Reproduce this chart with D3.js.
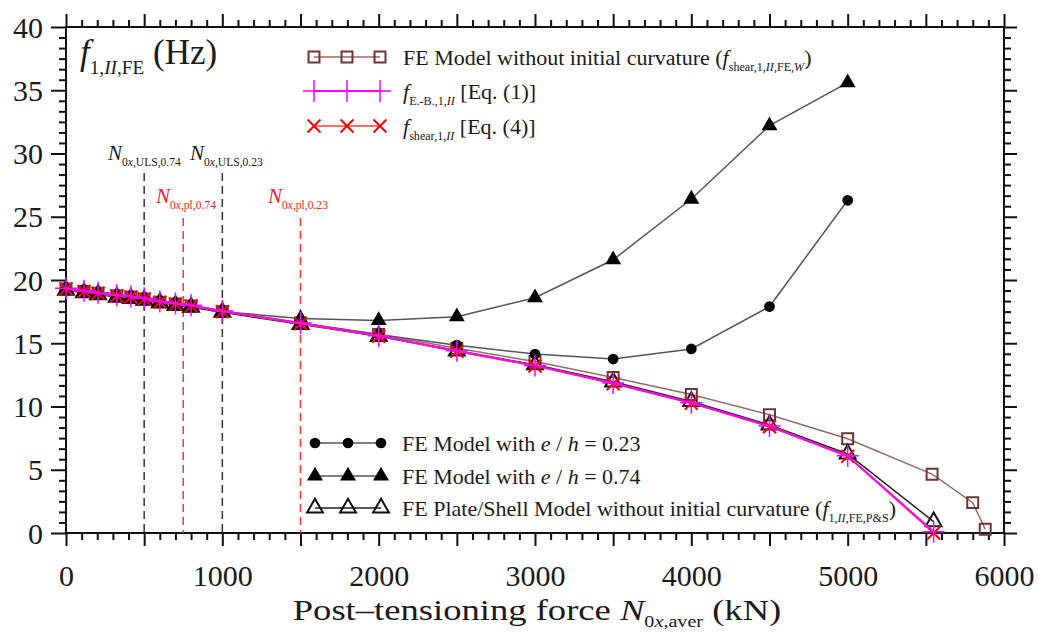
<!DOCTYPE html>
<html>
<head>
<meta charset="utf-8">
<script src="https://cdn.jsdelivr.net/npm/d3@7"></script>
<style>
  body { margin: 0; background: #fff; }
  svg { font-family: "Liberation Serif", "Times New Roman", serif; }
</style>
</head>
<body>
<div id="chart"></div>
<script>
// x positions (kN) of the FE load steps
var xSteps = [0, 115, 205, 325, 415, 500, 600, 700, 800, 1000, 1500, 2000, 2500, 3000, 3500, 4000, 4500, 5000, 5550];
var xSquares = [0, 115, 205, 325, 415, 500, 600, 700, 800, 1000, 1500, 2000, 2500, 3000, 3500, 4000, 4500, 5000, 5540, 5800, 5880];
var xEcc = [0, 115, 205, 325, 415, 500, 600, 700, 800, 1000, 1500, 2000, 2500, 3000, 3500, 4000, 4500, 5000];

// frequencies (Hz)
var fSquares = [19.3, 19.1, 18.95, 18.75, 18.65, 18.5, 18.25, 18.1, 17.95, 17.5, 16.6, 15.7, 14.6, 13.55, 12.3, 10.95, 9.35, 7.45, 4.65, 2.4, 0.3];
var fEB = [19.35, 19.15, 19.0, 18.8, 18.7, 18.55, 18.3, 18.15, 18.0, 17.55, 16.6, 15.6, 14.4, 13.25, 11.85, 10.3, 8.45, 6.1, 0.1];
var fShear = [19.3, 19.1, 18.95, 18.75, 18.65, 18.5, 18.25, 18.1, 17.95, 17.5, 16.55, 15.55, 14.35, 13.2, 11.8, 10.25, 8.4, 6.05, 0.0];
var fPlate = [19.2, 19.0, 18.85, 18.65, 18.55, 18.4, 18.2, 18.0, 17.85, 17.45, 16.5, 15.55, 14.4, 13.3, 11.95, 10.4, 8.55, 6.25, 0.9];
var fEcc023 = [19.25, 19.05, 18.9, 18.7, 18.6, 18.45, 18.2, 18.05, 17.9, 17.5, 16.6, 15.7, 14.85, 14.15, 13.75, 14.55, 17.9, 26.3];
var fEcc074 = [19.25, 19.05, 18.9, 18.7, 18.6, 18.45, 18.2, 18.05, 17.9, 17.5, 16.95, 16.8, 17.1, 18.6, 21.6, 26.4, 32.2, 35.6];

var xMajor = [0, 500, 1000, 1500, 2000, 2500, 3000, 3500, 4000, 4500, 5000, 5500, 6000];
var xLabels = [0, 1000, 2000, 3000, 4000, 5000, 6000];
var yMajor = [0, 5, 10, 15, 20, 25, 30, 35, 40];

// limit lines
var ulsLines = [500, 1000];
var plLines = [750, 1500];

var W = 1039, H = 632;
var svg = d3.select('#chart').append('svg').attr('width', W).attr('height', H);

var x = d3.scaleLinear().domain([0, 6000]).range([66, 1004]);
var y = d3.scaleLinear().domain([0, 40]).range([533, 27]);

// rich text helper: parts = [[text, kind]] kind: '' normal, 'i' italic, 's' sub, 'si' sub italic
function rich(g, px, py, parts, size, color, anchor, subShift) {
  var t = g.append('text').attr('x', px).attr('y', py)
    .style('font-size', size + 'px').attr('fill', color || '#1a1a1a')
    .attr('text-anchor', anchor || 'start');
  var shift = 0;
  parts.forEach(function(p) {
    var sub = p[1].indexOf('s') >= 0;
    var target = sub ? size * (subShift || 0.28) : 0;
    t.append('tspan')
      .attr('dy', target - shift)
      .style('font-size', (sub ? size * 0.55 : size) + 'px')
      .style('font-style', p[1].indexOf('i') >= 0 ? 'italic' : 'normal')
      .text(p[0]);
    shift = target;
  });
  return t;
}

// axes
function addAxis(axisFn, transform, values, size, labels) {
  var a = axisFn.tickValues(values).tickSize(size).tickSizeOuter(0)
    .tickFormat(labels ? function(d) { return labels.indexOf(d) >= 0 ? d : ''; } : function() { return ''; });
  var g = svg.append('g').attr('transform', transform).call(a);
  g.attr('font-family', null);
  g.select('.domain').remove();
  g.selectAll('.tick line').attr('stroke', '#111').attr('stroke-width', 2);
  g.selectAll('.tick text').style('font-size', '30px').attr('fill', '#1a1a1a');
  return g;
}
var xMinor = d3.range(0, 6001, 100).filter(function(d) { return d % 500 !== 0; });
var yMinor = d3.range(0, 40.01, 5 / 6).filter(function(d) { return Math.abs(d / 5 - Math.round(d / 5)) > 0.01; });

addAxis(d3.axisBottom(x), 'translate(0,533)', xMinor, 7);
var gx = addAxis(d3.axisBottom(x), 'translate(0,533)', xMajor, 13, xLabels);
gx.selectAll('.tick text').attr('y', 32).attr('dy', '0.71em');
addAxis(d3.axisTop(x), 'translate(0,27)', xMinor, 7);
addAxis(d3.axisTop(x), 'translate(0,27)', xMajor, 13);
addAxis(d3.axisLeft(y), 'translate(66,0)', yMinor, 7);
var gy = addAxis(d3.axisLeft(y), 'translate(66,0)', yMajor, 15, yMajor);
gy.selectAll('.tick text').attr('x', -23).attr('dy', '0.34em');
addAxis(d3.axisRight(y), 'translate(1004,0)', yMinor, 7);
addAxis(d3.axisRight(y), 'translate(1004,0)', yMajor, 13);

// frame
svg.append('rect').attr('x', 66).attr('y', 27).attr('width', 1004 - 66).attr('height', 533 - 27)
  .attr('fill', 'none').attr('stroke', '#111').attr('stroke-width', 2);

// limit lines
svg.selectAll('.uls').data(ulsLines).enter().append('line')
  .attr('x1', function(d) { return x(d); }).attr('x2', function(d) { return x(d); })
  .attr('y1', 173).attr('y2', 533)
  .attr('stroke', '#333').attr('stroke-width', 1.5).attr('stroke-dasharray', '8,5');
svg.selectAll('.pl').data(plLines).enter().append('line')
  .attr('x1', function(d) { return x(d); }).attr('x2', function(d) { return x(d); })
  .attr('y1', 218).attr('y2', 533)
  .attr('stroke', '#ff3333').attr('stroke-width', 1.5).attr('stroke-dasharray', '8,5');

rich(svg, 108, 160, [['N', 'i'], ['0', 's'], ['x', 'si'], [',ULS,0.74', 's']], 21, '#1a1a1a');
rich(svg, 190, 160, [['N', 'i'], ['0', 's'], ['x', 'si'], [',ULS,0.23', 's']], 21, '#1a1a1a');
rich(svg, 156, 203, [['N', 'i'], ['0', 's'], ['x', 'si'], [',pl,0.74', 's']], 21, '#ff2020');
rich(svg, 268, 203, [['N', 'i'], ['0', 's'], ['x', 'si'], [',pl,0.23', 's']], 21, '#ff2020');

// series
var series = [
  { xs: xSquares, ys: fSquares, line: '#9a6a6a', lw: 1.5, sym: d3.symbolSquare, size: 120, fill: 'none', stroke: '#6e3535', sw: 2 },
  { xs: xSteps, ys: fPlate, line: '#222', lw: 1.5, sym: d3.symbolTriangle, size: 110, fill: 'none', stroke: '#111', sw: 2 },
  { xs: xEcc, ys: fEcc023, line: '#555', lw: 1.5, sym: d3.symbolCircle, size: 90, fill: '#000', stroke: 'none', sw: 0 },
  { xs: xEcc, ys: fEcc074, line: '#555', lw: 1.5, sym: d3.symbolTriangle, size: 110, fill: '#000', stroke: 'none', sw: 0 },
  { xs: xSteps, ys: fShear, line: '#ff4040', lw: 1.5, sym: d3.symbolTimes, size: 110, fill: 'none', stroke: '#ff0000', sw: 2 },
  { xs: xSteps, ys: fEB, line: '#ff00ff', lw: 2, sym: d3.symbolPlus, size: 160, fill: 'none', stroke: '#ff00ff', sw: 1.5 }
];

var lineGen = d3.line().x(function(d) { return x(d[0]); }).y(function(d) { return y(d[1]); });

series.forEach(function(s) {
  var pts = s.xs.map(function(v, i) { return [v, s.ys[i]]; });
  svg.append('path').datum(pts).attr('d', lineGen)
    .attr('fill', 'none').attr('stroke', s.line).attr('stroke-width', s.lw);
  svg.append('g').selectAll('path').data(pts).enter().append('path')
    .attr('d', d3.symbol().type(s.sym).size(s.size))
    .attr('transform', function(d) { return 'translate(' + x(d[0]) + ',' + y(d[1]) + ')'; })
    .attr('fill', s.fill).attr('stroke', s.stroke).attr('stroke-width', s.sw);
});

// legend helper
function legendRow(lx, ly, s) {
  var g = svg.append('g');
  g.append('line').attr('x1', lx).attr('x2', lx + 66).attr('y1', ly).attr('y2', ly)
    .attr('stroke', s.line).attr('stroke-width', s.lw);
  [0, 33, 66].forEach(function(dx) {
    g.append('path').attr('d', d3.symbol().type(s.sym).size(s.size))
      .attr('transform', 'translate(' + (lx + dx) + ',' + ly + ')')
      .attr('fill', s.fill).attr('stroke', s.stroke).attr('stroke-width', s.sw);
  });
}

legendRow(314, 57, series[0]);
legendRow(314, 91, series[5]);
legendRow(314, 126, series[4]);
rich(svg, 403, 65, [['FE Model without initial curvature (', ''], ['f', 'i'], ['shear,1,', 's'], ['II', 'si'], [',FE,', 's'], ['W', 'si'], [')', '']], 22);
rich(svg, 403, 99, [['f', 'i'], ['E.-B.,1,', 's'], ['II', 'si'], [' [Eq. (1)]', '']], 22);
rich(svg, 403, 134, [['f', 'i'], ['shear,1,', 's'], ['II', 'si'], [' [Eq. (4)]', '']], 22);

legendRow(315, 443, series[2]);
legendRow(315, 476, series[3]);
legendRow(315, 508, series[1]);
rich(svg, 402, 451, [['FE Model with ', ''], ['e', 'i'], [' / ', ''], ['h', 'i'], [' = 0.23', '']], 22);
rich(svg, 402, 484, [['FE Model with ', ''], ['e', 'i'], [' / ', ''], ['h', 'i'], [' = 0.74', '']], 22);
rich(svg, 402, 516, [['FE Plate/Shell Model without initial curvature (', ''], ['f', 'i'], ['1,', 's'], ['II', 'si'], [',FE,P&S', 's'], [')', '']], 22);

// axis titles
rich(svg, 80, 64, [['f', 'i'], ['1,', 's'], ['II', 'si'], [',FE', 's'], [' (Hz)', '']], 35);
var xt = svg.append('g').attr('transform', 'translate(537,620) scale(1.22,1)');
rich(xt, 0, 0, [['Post\u2013tensioning force ', ''], ['N', 'i'], ['0', 's'], ['x', 'si'], [',aver', 's'], [' (kN)', '']], 30, '#1a1a1a', 'middle', 0.22);
</script>
</body>
</html>
